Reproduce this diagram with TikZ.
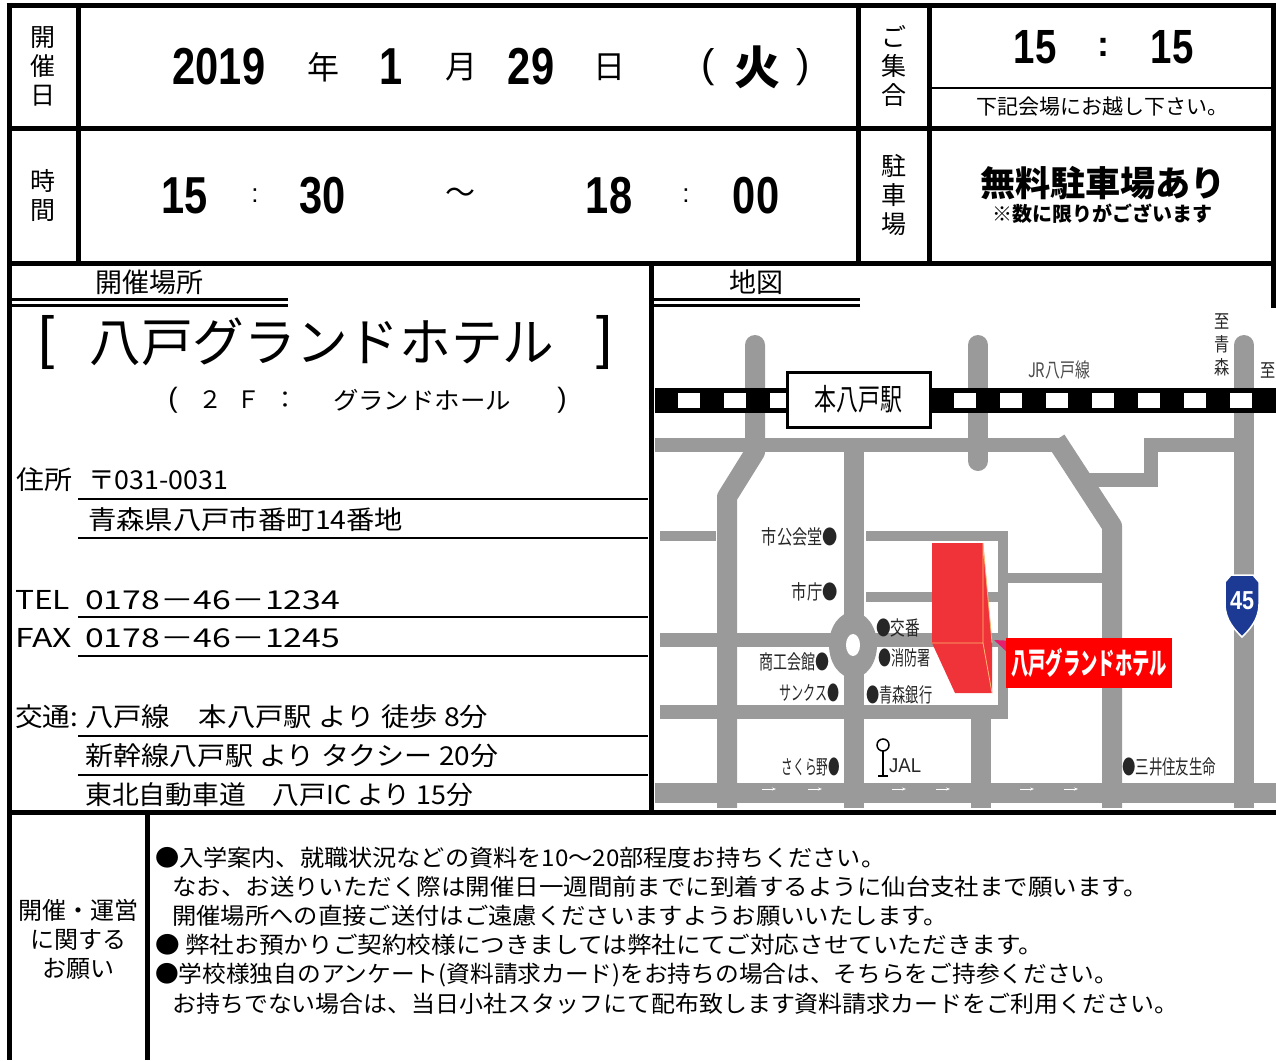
\documentclass[tikz,border=0pt]{standalone}
\usepackage{fontspec}
\usepackage{graphicx}
\setmainfont{Liberation Sans}
\newfontfamily\jp{Noto Sans CJK JP}
\usetikzlibrary{arrows.meta}

\definecolor{roadgray}{HTML}{9A9A9A}
\definecolor{hotelred}{HTML}{EF3338}
\definecolor{signred}{HTML}{FF0000}
\definecolor{pointer}{HTML}{E2206E}
\definecolor{routeblue}{HTML}{1C3A94}

\newcommand\fitw[2]{\resizebox{#1pt}{\height}{#2}}
\newcommand\narrow[1]{\scalebox{0.8}[1]{#1}}
\newcommand\jpf[2]{\jp\fontsize{#1}{#2}\selectfont}

\tikzstyle{formline} = [line width=5pt]
\tikzstyle{fieldline} = [line width=1.3pt]
\tikzstyle{vlabel} = [inner sep=0pt, align=center, font=\jpf{25}{29}]
\tikzstyle{bignum} = [inner sep=0pt, font=\bfseries\fontsize{52}{52}\selectfont]
\tikzstyle{kanji} = [inner sep=0pt, font=\jpf{32}{32}]
\tikzstyle{field} = [inner sep=0pt, anchor=west, font=\jpf{26}{26}]
\tikzstyle{notice} = [inner sep=0pt, anchor=west, font=\jpf{23}{23}]
\tikzstyle{landmark} = [inner sep=0pt, text=black!85, font=\jpf{20}{20}]
\tikzstyle{road} = [draw=roadgray, line width=20pt]
\tikzstyle{lane} = [draw=roadgray, line width=14pt]
\tikzstyle{alley} = [draw=roadgray, line width=10pt]

\begin{document}
\begin{tikzpicture}[x=1pt, y=-1pt]
    \useasboundingbox (0,0) rectangle (1276,1060);

    % map
    \begin{scope}
    \clip (655,308) rectangle (1276,807);
    \draw[road, line cap=round, line join=round] (755,345) -- (755,452) -- (727,497) -- (727,815);
    \draw[road] (854,440) -- (854,815);
    \draw[road, line cap=round] (978,345) -- (978,461);
    \draw[road, line cap=round] (1244,345) -- (1244,815);
    \draw[road, line join=round] (1056,440) -- (1112,526) -- (1112,815);
    \draw[lane] (654,445) -- (1062,445);
    \draw[lane] (1075,480) -- (1151,480) -- (1151,445) -- (1244,445);
    \draw[alley] (660,536) -- (716,536);
    \draw[alley] (866,536) -- (1003,536) -- (1003,716);
    \draw[alley] (1003,578) -- (1112,578);
    \draw[alley] (866,597) -- (1003,597);
    \draw[lane] (660,640) -- (1003,640);
    \draw[lane] (660,712) -- (1008,712);
    \draw[road] (981,712) -- (981,815);
    \draw[road] (655,793) -- (1276,793);
    \fill[roadgray] (853,645) ellipse [x radius=24, y radius=33];
    \fill[white] (853,645) ellipse [x radius=7, y radius=11];
    \foreach \x in {762,808,892,936,1020,1064}
        \draw[white, line width=1pt, -{Stealth[length=4pt]}] (\x,789) -- ++(14,0);
    % railway
    \fill (655,388) rectangle (1276,413);
    \foreach \i in {0,...,13}
        \fill[white] ({678+46*\i},393) rectangle ++(22,15);
    \node (station) [draw, line width=3pt, fill=white, minimum width=143pt, minimum height=55pt, inner sep=0pt, font=\jpf{30}{30}] at (858.5,399.5) {\fitw{88}{本八戸駅}};
    \node (jrline) [landmark, text=black!70] at (1059,370) {\fitw{62}{JR八戸線}};
    \node (toaomori) [landmark, align=center, font=\jpf{19}{23}] at (1222,345) {\narrow{至}\\\narrow{青}\\\narrow{森}};
    \node (to) [landmark, font=\jpf{19}{23}] at (1268,370) {\narrow{至}};
    % hotel
    \fill[hotelred] (932,543) -- (983,543) -- (992,643) -- (992,693) -- (955,693) -- (932,643) -- cycle;
    \draw[orange!55, line width=0.8pt] (932,643) -- (983,643) -- (983,543) -- (992,643) (983,643) -- (992,693);
    \fill[pointer] (994,640) -- (1014,641) -- (1008,653) -- cycle;
    \node (hotel) [fill=signred, text=white, inner sep=0pt, minimum width=166pt, minimum height=50pt, font=\jpf{30}{30}\bfseries] at (1089,663) {\fitw{156}{八戸グランドホテル}};
    \node (kokaido) [landmark, anchor=east] at (838,537) {\fitw{76}{市公会堂●}};
    \node (shicho) [landmark, anchor=east] at (838,592) {\fitw{46}{市庁●}};
    \node (koban) [landmark, anchor=west] at (876,628) {\fitw{44}{●交番}};
    \node (shokokaikan) [landmark, anchor=east] at (830,662) {\fitw{70}{商工会館●}};
    \node (shobosho) [landmark, anchor=west] at (878,658) {\fitw{52}{●消防署}};
    \node (sunkus) [landmark, anchor=east] at (840,693) {\fitw{60}{サンクス●}};
    \node (aomoribank) [landmark, anchor=west] at (866,695) {\fitw{66}{●青森銀行}};
    \node (sakurano) [landmark, anchor=east] at (840,767) {\fitw{58}{さくら野●}};
    \node (mitsui) [landmark, anchor=west] at (1122,767) {\fitw{94}{●三井住友生命}};
    \node (jal) [landmark, anchor=west, font=\fontsize{20}{20}\selectfont] at (889,766) {\fitw{32}{JAL}};
    \draw[line width=1.5pt] (883,745) circle (6);
    \draw[line width=1.5pt] (883,751) -- (883,776) (878,776) -- (888,776);
    \filldraw[fill=routeblue, draw=white, line width=1.5pt] (1225,582) -- (1231,575) -- (1253,575) -- (1259,582) -- (1259,604) .. controls (1259,620) and (1249,630) .. (1242,637) .. controls (1235,630) and (1225,620) .. (1225,604) -- cycle;
    \node (route45) [text=white, inner sep=0pt, font=\bfseries\fontsize{26}{26}\selectfont] at (1242,601) {\fitw{24}{45}};
    \end{scope}

    % form lines
    \draw[formline] (6.5,5) -- (1275.5,5);
    \draw[formline] (1273,5) -- (1273,308);
    \draw[formline] (9,2.5) -- (9,1060);
    \draw[formline] (9,128) -- (1273,128);
    \draw[formline] (9,263) -- (1273,263);
    \draw[formline] (78,5) -- (78,263);
    \draw[formline] (858,5) -- (858,263);
    \draw[formline] (929,5) -- (929,263);
    \draw[line width=1.5pt] (929,88) -- (1273,88);
    \draw[formline] (651,263) -- (651,812);
    \draw[formline] (9,812) -- (1276,812);
    \draw[formline] (147,812) -- (147,1060);
    \draw[line width=2.5pt] (10,299.5) -- (288,299.5) (10,305.5) -- (288,305.5);
    \draw[line width=2.5pt] (653,299.5) -- (860,299.5) (653,305.5) -- (860,305.5);

    % date and time
    \node (kaisaibi) [vlabel] at (43,66) {開\\催\\日};
    \node (jikan) [vlabel] at (43,195) {時\\間};
    \node (shugo) [vlabel] at (894,66) {ご\\集\\合};
    \node (chushajo) [vlabel] at (894,195) {駐\\車\\場};
    \node (year) [bignum] at (219,67) {\narrow{2019}};
    \node (nen) [kanji] at (323,67) {年};
    \node (month) [bignum] at (391,67) {\narrow{1}};
    \node (gatsu) [kanji] at (461,67) {月};
    \node (day) [bignum] at (531,67) {\narrow{29}};
    \node (nichi) [kanji] at (609,67) {日};
    \node (lpar) [inner sep=0pt, font=\fontsize{40}{40}\selectfont] at (708,67) {(};
    \node (weekday) [inner sep=0pt, font=\jpf{46}{46}\bfseries] at (757,67) {火};
    \node (rpar) [inner sep=0pt, font=\fontsize{40}{40}\selectfont] at (803,67) {)};
    \node (starth) [bignum] at (185,196) {\narrow{15}};
    \node (colon1) [inner sep=0pt, font=\fontsize{26}{26}\selectfont] at (255,196) {:};
    \node (startm) [bignum] at (323,196) {\narrow{30}};
    \node (tilde) [inner sep=0pt, font=\jpf{30}{30}] at (460,196) {～};
    \node (endh) [bignum] at (609,196) {\narrow{18}};
    \node (colon2) [inner sep=0pt, font=\fontsize{26}{26}\selectfont] at (686,196) {:};
    \node (endm) [bignum] at (756,196) {\narrow{00}};
    \node (meeth) [bignum, font=\bfseries\fontsize{48}{48}\selectfont] at (1035,47) {\narrow{15}};
    \node (colon3) [inner sep=0pt, font=\bfseries\fontsize{36}{36}\selectfont] at (1103,47) {:};
    \node (meetm) [bignum, font=\bfseries\fontsize{48}{48}\selectfont] at (1172,47) {\narrow{15}};
    \node (meetnote) [inner sep=0pt, font=\jpf{21}{21}] at (1102,107) {\fitw{252}{下記会場にお越し下さい。}};
    \node (parking) [inner sep=0pt, font=\jpf{35}{35}\bfseries] at (1103,183) {\fitw{246}{無料駐車場あり}};
    \node (parknote) [inner sep=0pt, font=\jpf{20}{20}\bfseries] at (1102,214) {\fitw{220}{※数に限りがございます}};

    % venue
    \node (venuehead) [inner sep=0pt, font=\jpf{27}{27}] at (149,282) {開催場所};
    \node (maphead) [inner sep=0pt, font=\jpf{27}{27}] at (756,282) {地図};
    \node (lbrack) [inner sep=0pt, font=\fontsize{58}{58}\selectfont] at (47,342) {[};
    \node (venue) [inner sep=0pt, font=\jpf{52}{52}] at (322,342) {\fitw{465}{八戸グランドホテル}};
    \node (rbrack) [inner sep=0pt, font=\fontsize{58}{58}\selectfont] at (605,342) {]};
    \node (hlpar) [inner sep=0pt, font=\fontsize{28}{28}\selectfont] at (173,400) {(};
    \node (floor) [inner sep=0pt, font=\jpf{24}{24}] at (210,400) {２};
    \node (floorf) [inner sep=0pt, font=\jpf{24}{24}] at (248,400) {Ｆ};
    \node (hcolon) [inner sep=0pt, font=\jpf{24}{24}] at (285,400) {：};
    \node (hall) [inner sep=0pt, font=\jpf{24}{24}] at (422,400) {\fitw{178}{グランドホール}};
    \node (hrpar) [inner sep=0pt, font=\fontsize{28}{28}\selectfont] at (562,400) {)};
    \node (jusho) [field] at (16,480) {\fitw{56}{住所}};
    \node (zip) [field] at (88,480) {\fitw{140}{〒031-0031}};
    \node (addr) [field] at (88,520) {\fitw{315}{青森県八戸市番町14番地}};
    \node (tel) [field] at (15,600) {\fitw{55}{TEL}};
    \node (telno) [field] at (85,600) {\fitw{255}{0178－46－1234}};
    \node (fax) [field] at (15,638) {\fitw{57}{FAX}};
    \node (faxno) [field] at (85,638) {\fitw{255}{0178－46－1245}};
    \node (kotsu) [field] at (15,717) {\fitw{63}{交通:}};
    \node (route1) [field] at (85,717) {\fitw{403}{八戸線　本八戸駅 より 徒歩 8分}};
    \node (route2) [field] at (85,756) {\fitw{413}{新幹線八戸駅 より タクシー 20分}};
    \node (route3) [field] at (85,795) {\fitw{388}{東北自動車道　八戸IC より 15分}};
    \draw[fieldline] (78,499) -- (648,499) (78,538) -- (648,538);
    \draw[fieldline] (78,617) -- (648,617) (78,656) -- (648,656);
    \draw[fieldline] (78,736) -- (648,736) (78,775) -- (648,775);

    % requests
    \node (onegai) [vlabel, font=\jpf{24}{29}] at (78,939) {開催・運営\\に関する\\お願い};
    \node (note1) [notice] at (155,858) {\fitw{730}{●入学案内、就職状況などの資料を10～20部程度お持ちください。}};
    \node (note2) [notice] at (172,887) {\fitw{976}{なお、お送りいただく際は開催日一週間前までに到着するように仙台支社まで願います。}};
    \node (note3) [notice] at (172,916) {\fitw{776}{開催場所への直接ご送付はご遠慮くださいますようお願いいたします。}};
    \node (note4) [notice] at (155,945) {\fitw{888}{● 弊社お預かりご契約校様につきましては弊社にてご対応させていただきます。}};
    \node (note5) [notice] at (155,975) {\fitw{963}{●学校様独自のアンケート(資料請求カード)をお持ちの場合は、そちらをご持参ください。}};
    \node (note6) [notice] at (172,1004) {\fitw{1006}{お持ちでない場合は、当日小社スタッフにて配布致します資料請求カードをご利用ください。}};
\end{tikzpicture}
\end{document}
